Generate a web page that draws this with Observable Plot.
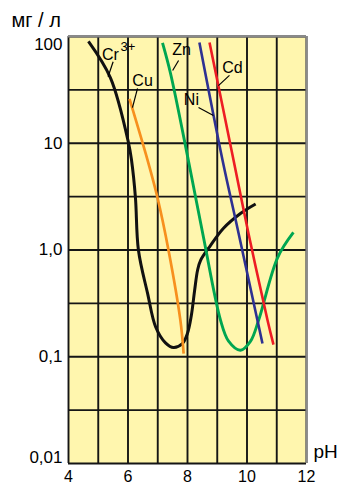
<!DOCTYPE html>
<html><head><meta charset="utf-8">
<script src="https://cdn.jsdelivr.net/npm/d3@7"></script>
<script src="https://cdn.jsdelivr.net/npm/@observablehq/plot@0.6"></script>
<style>body{margin:0;background:#fff} svg{display:block}</style>
</head><body><div id="chart"></div>
<script>
// ---- data (pH, concentration мг/л) ----
const crPH  = [4.67, 5.41, 6.02, 6.12, 6.25, 6.35, 6.66, 6.93, 7.26, 7.53, 7.83, 8.00, 8.13, 8.24, 8.34, 8.44, 8.77, 9.21, 9.78, 10.29];
const crVal = [90, 41, 10, 6.9, 3.1, 1.0, 0.39, 0.19, 0.135, 0.122, 0.133, 0.166, 0.245, 0.42, 0.65, 0.8, 1.1, 1.6, 2.2, 2.7];

const cuPH  = [6.05, 6.66, 6.99, 7.36, 7.76, 7.87];
const cuVal = [26, 6.9, 3.1, 1.0, 0.22, 0.107];

const znPH  = [7.16, 7.43, 8.03, 8.54, 9.11, 9.38, 9.78, 10.12, 10.39, 11.03, 11.56];
const znVal = [87, 45, 6.9, 1.3, 0.22, 0.14, 0.115, 0.14, 0.22, 0.85, 1.46];

const niPH  = [8.40, 9.18, 9.68, 10.35, 10.52];
const niVal = [88, 6.9, 1.6, 0.22, 0.133];

const cdPH  = [8.74, 9.55, 10.05, 10.69, 10.89];
const cdVal = [88, 6.9, 1.43, 0.22, 0.13];

const seriesNames  = ["Cr", "Cu", "Zn", "Ni", "Cd"];
const seriesColors = ["#111111", "#f7901e", "#00a651", "#2e3192", "#ed1c24"];

// labels (centres)
const labelText = ["Cr", "Cu", "Zn", "Ni", "Cd"];
const labelPH   = [5.41, 6.49, 7.80, 8.13, 9.51];
const labelVal  = [67.8, 38.7, 75.5, 25.7, 51.2];
const supText = ["3+"];
const supPH   = [6.0];
const supVal  = [80];
// leader lines
const leadPH1  = [5.50, 6.32, 7.70, 8.37, 9.41];
const leadVal1 = [58, 32.6, 59.6, 21.6, 43.2];
const leadPH2  = [5.33, 6.15, 7.50, 8.87, 9.04];
const leadVal2 = [42, 21.6, 48, 18.2, 34.7];

// axes / grid
const xTicks = [4, 6, 8, 10, 12];
const xGrid = [4, 5, 6, 7, 8, 9, 10, 11, 12];
const yGrid = [0.01, 0.0316, 0.1, 0.316, 1, 3.16, 10, 31.6, 100];
const yTicksMid = [0.1, 1, 10];
const yTickLabelsMid = ["0,1", "1,0", "10"];
const yTickTop = [100], yTickTopLabel = ["100"];
const yTickBot = [0.01], yTickBotLabel = ["0,01"];

// build tables
const raw = [[crPH, crVal], [cuPH, cuVal], [znPH, znVal], [niPH, niVal], [cdPH, cdVal]];
const rows = [];
raw.forEach(([xs, ys], i) => xs.forEach((x, j) => rows.push({name: seriesNames[i], color: seriesColors[i], x, y: ys[j]})));
const labels = labelText.map((t, i) => ({t, x: labelPH[i], y: labelVal[i]}));
const sups = supText.map((t, i) => ({t, x: supPH[i], y: supVal[i]}));
const leads = leadPH1.map((x, i) => ({x1: x, y1: leadVal1[i], x2: leadPH2[i], y2: leadVal2[i]}));
const yMid = yTicksMid.map((v, i) => ({v, t: yTickLabelsMid[i]}));
const yTop = yTickTop.map((v, i) => ({v, t: yTickTopLabel[i]}));
const yBot = yTickBot.map((v, i) => ({v, t: yTickBotLabel[i]}));

const font = "'Liberation Sans', Arial, sans-serif";
const lineW = {Cr: 3, Cu: 2.7, Zn: 2.9, Ni: 2.6, Cd: 2.6};

const yLabel = (data, dy) => Plot.text(data, {
  y: "v", text: "t", frameAnchor: "left", textAnchor: "end", dx: -6, dy, fontSize: 17, fill: "#000"
});

const chart = Plot.plot({
  width: 340, height: 486,
  marginLeft: 68, marginRight: 34, marginTop: 36, marginBottom: 23,
  style: {fontFamily: font, background: "#fff", color: "#000"},
  x: {domain: [4, 12], axis: null},
  y: {type: "log", domain: [0.01, 100], axis: null},
  marks: [
    Plot.frame({fill: "#fff6ae", stroke: null}),
    Plot.ruleX(xGrid, {stroke: "#151515", strokeWidth: 1.9}),
    Plot.ruleY(yGrid, {stroke: "#151515", strokeWidth: 1.9}),
    Plot.ruleY(yTickTop, {stroke: "#8a8a8a", strokeWidth: 2}),
    Plot.ruleX([xGrid[xGrid.length - 1]], {stroke: "#8a8a8a", strokeWidth: 2}),
    ...seriesNames.map(n => Plot.line(rows.filter(d => d.name === n), {
      x: "x", y: "y", stroke: "color", strokeWidth: lineW[n], curve: "catmull-rom", strokeLinecap: "butt"
    })),
    Plot.link(leads, {x1: "x1", y1: "y1", x2: "x2", y2: "y2", stroke: "#000", strokeWidth: 1.2}),
    Plot.text(labels, {x: "x", y: "y", text: "t", textAnchor: "middle", fontSize: 16, fill: "#000"}),
    Plot.text(sups, {x: "x", y: "y", text: "t", textAnchor: "middle", fontSize: 13, fill: "#000"}),
    Plot.axisX(xTicks, {tickSize: 0, tickPadding: 7, fontSize: 16, tickFormat: d => String(d)}),
    yLabel(yMid, 0),
    yLabel(yTop, 8),
    yLabel(yBot, -6),
    Plot.text(["мг / л"], {frameAnchor: "top-left", lineAnchor: "middle", dx: -57, dy: -16, textAnchor: "start", fontSize: 20, fill: "#000"}),
    Plot.text(["pH"], {frameAnchor: "bottom-right", lineAnchor: "middle", dx: 7, dy: -12, textAnchor: "start", fontSize: 19, fill: "#000"})
  ]
});
document.getElementById("chart").append(chart);
</script>
</body></html>
